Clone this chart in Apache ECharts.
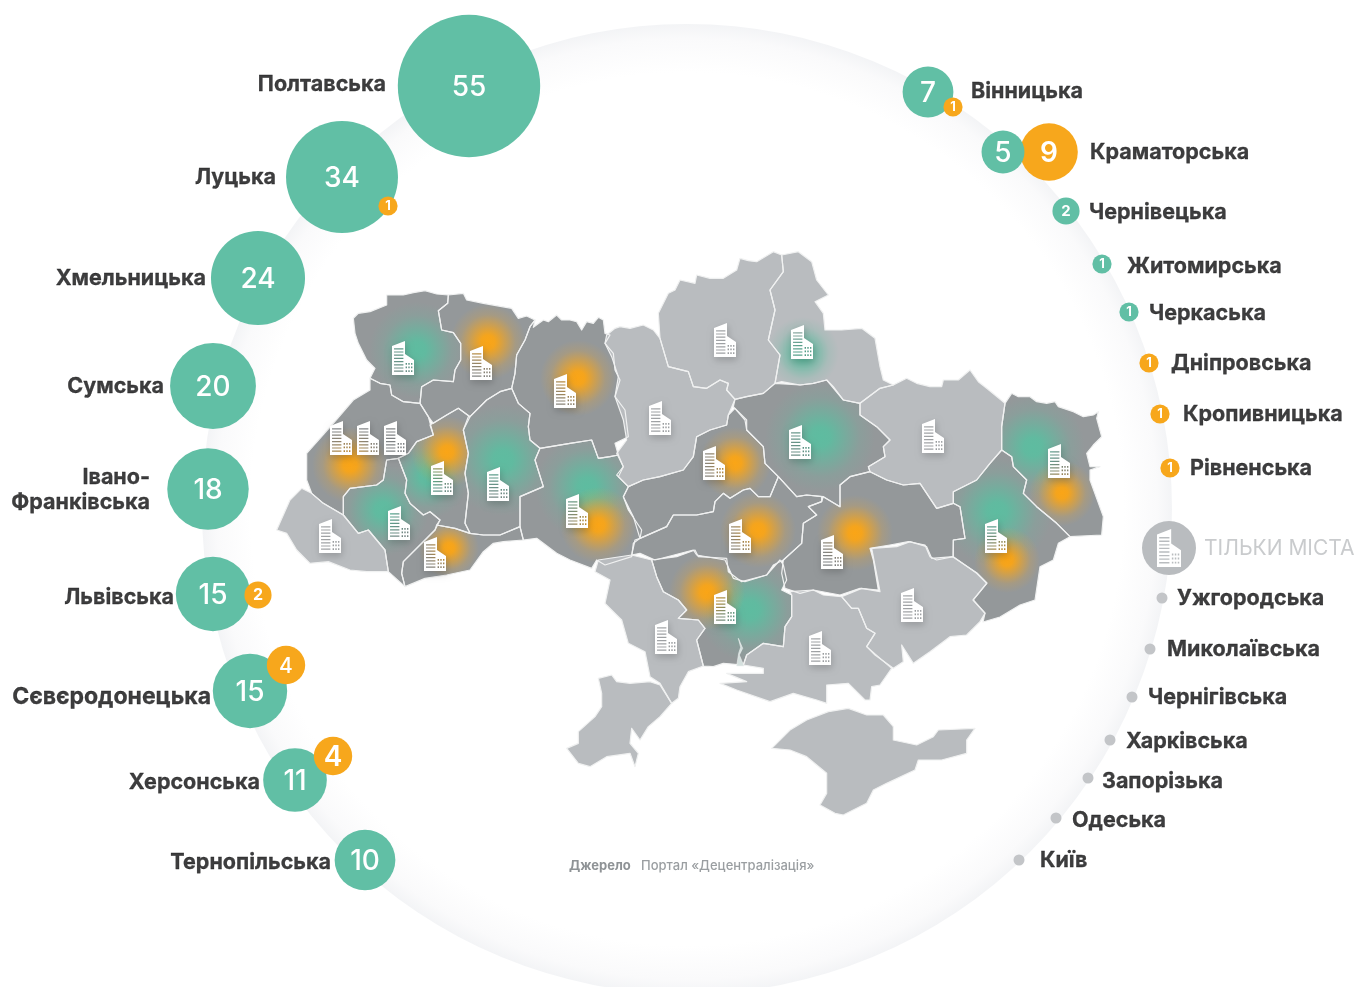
<!DOCTYPE html>
<html><head><meta charset="utf-8">
<style>html,body{margin:0;padding:0;background:#fff}#c{width:1354px;height:987px}</style>
<script src="https://cdn.jsdelivr.net/npm/echarts@6/dist/echarts.min.js"></script>
</head><body><div id="c"></div>
<script>
// ---------- data ----------
const greenCities = ['Полтавська','Луцька','Хмельницька','Сумська','Івано-\nФранківська','Львівська','Сєвєродонецька','Херсонська','Тернопільська','Вінницька','Краматорська','Чернівецька','Житомирська','Черкаська'];
const greenValues = [55,34,24,20,18,15,15,11,10,7,5,2,1,1];
const orangeCities = ['Краматорська','Луцька','Львівська','Сєвєродонецька','Херсонська','Вінницька','Дніпровська','Кропивницька','Рівненська'];
const orangeValues = [9,1,2,4,4,1,1,1,1];
const onlyCities = ['Ужгородська','Миколаївська','Чернігівська','Харківська','Запорізька','Одеська','Київ'];
const legendTitle = 'ТІЛЬКИ МІСТА';
const sourceLabel = 'Джерело';
const sourceName = 'Портал «Децентралізація»';

// ---------- layout, in page pixels on hidden 0..1354 / 0..987 axes ----------
const greenXY = [[469,86],[342,177],[258,278],[213,386],[208,489],[213,594],[250,691],[295,780],[365,860],[928,92],[1003,152],[1066,211],[1102,264],[1129,312]];
const orangeXY = [[1049,152],[388,206],[258,595],[286,665],[333,756],[953,107],[1149,363],[1160,414],[1170,468]];
const onlyDotXY = [[1162,598],[1150,649],[1132,697],[1110,740],[1088,778],[1056,818],[1019,860]];
const nameAnchors = {
 'Полтавська':[386,85,'l'],'Луцька':[276,178,'l'],'Хмельницька':[206,279,'l'],'Сумська':[164,387,'l'],'Івано-\nФранківська':[150,490,'l'],
 'Львівська':[174,598,'l'],'Сєвєродонецька':[211,697,'l',23],'Херсонська':[260,783,'l'],'Тернопільська':[331,863,'l'],
 'Вінницька':[971,92,'r'],'Краматорська':[1090,153,'r'],'Чернівецька':[1089,213,'r'],'Житомирська':[1127,267,'r'],'Черкаська':[1149,314,'r'],
 'Дніпровська':[1171,364,'r'],'Кропивницька':[1183,415,'r'],'Рівненська':[1190,469,'r'],
 'Ужгородська':[1177,599,'r'],'Миколаївська':[1167,650,'r'],'Чернігівська':[1148,698,'r'],'Харківська':[1126,742,'r'],'Запорізька':[1102,782,'r'],'Одеська':[1072,821,'r'],'Київ':[1040,861,'r']
};
const buildingXY = [[403,358],[481,363],[565,391],[341,438],[368,438],[395,438],[442,478],[498,484],[577,511],[330,536],[399,523],[435,554],[725,340],[802,342],[660,418],[714,463],[800,442],[933,436],[1059,461],[996,536],[740,536],[832,552],[666,637],[725,607],[820,648],[912,605]];
const legendBadgeXY = [1169,548];

// ---------- map outlines ----------
const at=(ox,oy,a)=>{const o=[];for(let i=0;i<a.length;i+=2)o.push([ox+a[i]/3,oy+a[i+1]/3]);return o;};
const z1=a=>at(270,240,a), z2=a=>at(600,240,a), z3=a=>at(550,540,a), px=a=>at(0,0,a.map(v=>v*3));
const regions = [
 {d:1,p:z1([250,235,265,220,300,215,350,195,350,165,400,165,430,158,465,152,500,162,535,165,533,190,505,212,515,270,550,278,572,310,572,360,555,390,550,425,490,420,455,440,450,490,400,485,365,465,360,435,330,430,300,415,315,385,290,360,265,310,255,280]),
  g:[[417,350,48,'g']]},
 {d:1,p:z1([535,165,580,160,590,180,640,190,725,205,745,235,770,228,795,240,780,260,765,300,740,345,735,400,725,445,690,455,650,480,600,530,565,505,530,525,490,550,475,530,450,490,455,440,490,420,550,425,555,390,572,360,572,310,550,278,515,270,505,212,533,190]),
  g:[[488,342,38,'o']]},
 {d:1,p:z1([795,240,790,262,820,240,835,245,860,225,875,240,900,240,920,245,935,270,950,245,970,250,985,232,1000,240,1005,280,1020,285,1005,310,1030,340,1035,390,1050,420,1035,470,1065,510,1075,590,1035,610,1045,645,1020,650,985,655,965,600,900,610,810,625,780,600,775,560,780,520,745,490,725,445,735,400,740,345,765,300,780,260]),
  g:[[578,378,38,'o']]},
 {d:0,p:z2([20,285,45,265,60,260,90,265,130,255,160,270,180,295,205,380,265,395,280,440,320,445,360,420,385,430,380,450,405,478,385,525,380,555,330,570,290,590,280,650,250,690,180,710,130,720,85,740,50,705,70,680,50,640,80,600,70,540,45,470,55,410,35,350,15,310])},
 {d:0,p:z2([180,295,175,220,205,160,225,150,240,120,285,130,290,105,330,115,370,115,410,90,420,55,445,62,470,65,520,35,545,45,550,95,510,150,525,210,505,300,540,345,525,430,490,460,440,470,405,478,380,450,385,430,360,420,320,445,280,440,265,395,205,380])},
 {d:0,p:z2([545,45,595,35,635,65,650,120,685,165,645,185,670,220,675,270,725,270,785,265,825,295,840,380,850,420,880,435,840,445,780,490,730,480,700,440,680,420,640,430,600,435,545,425,525,430,540,345,505,300,525,210,510,150,550,95]),
  g:[[803,353,36,'g']]},
 {d:1,p:z2([405,478,440,470,490,460,525,430,600,435,640,430,680,420,730,480,780,490,780,525,830,560,870,600,850,620,855,650,805,680,810,695,750,710,720,735,720,800,670,770,620,765,590,770,535,710,495,670,490,620,440,570,435,540,400,500]),
  g:[[820,437,55,'g']]},
 {d:0,p:z2([880,435,920,415,950,430,990,440,1025,440,1030,420,1075,420,1110,390,1135,425,1160,445,1215,490,1205,560,1205,630,1170,670,1130,720,1060,755,1060,790,1010,805,960,730,910,735,860,720,810,695,805,680,855,650,850,620,870,600,830,560,780,525,780,490,840,445])},
 {d:1,p:z2([1215,490,1235,460,1255,470,1290,470,1310,485,1340,490,1365,485,1375,500,1420,515,1450,530,1480,525,1495,515,1490,535,1505,590,1480,615,1460,640,1470,680,1500,680,1470,690,1470,720,1510,830,1505,885,1410,890,1370,850,1310,800,1270,760,1280,720,1240,680,1235,650,1205,630,1205,560]),
  g:[[1033,447,52,'g'],[1062,493,33,'o']]},
 {d:1,p:[...z2([1205,630,1235,650,1240,680,1280,720,1270,760,1310,800,1370,850,1410,890,1375,910,1360,960,1320,980,1305,1080]),...px([1020,605,1000,617,983,622,985,613,973,600,987,583,977,573,953,557]),...z2([1060,900,1095,895,1080,800,1060,790,1060,755,1130,720,1170,670])],
  g:[[997,512,55,'g'],[1007,560,33,'o']]},
 {d:1,p:z2([720,800,720,735,750,710,810,695,860,720,910,735,960,730,1010,805,1060,790,1080,800,1095,895,1060,900,1060,950,1010,960,990,950,975,915,925,905,870,915,810,925,820,960,835,1050,780,1045,720,1065,640,1050,600,1060,555,1045,545,1000,550,960,605,910,610,850,650,825,625,800,665,785,670,770]),
  g:[[855,533,38,'o']]},
 {d:1,p:z2([120,895,200,860,220,825,290,825,340,815,345,785,370,760,390,775,430,750,450,745,475,770,510,770,535,710,590,770,620,765,665,770,665,785,625,800,650,825,610,850,605,910,550,960,520,975,500,1005,435,1025,400,1015,375,960,290,945,280,930,165,960,120,940,95,945,105,900]),
  g:[[758,530,38,'o']]},
 {d:1,p:z2([85,740,130,720,180,710,250,690,280,650,290,590,330,570,380,555,385,525,405,505,440,540,440,570,490,620,495,670,535,710,510,770,475,770,450,745,430,750,390,775,370,760,345,785,340,815,290,825,220,825,200,860,120,895,100,830,70,770]),
  g:[[735,463,36,'o']]},
 {d:1,p:z1([810,625,900,610,965,600,985,655,1020,650,1045,645,1060,680,1045,710,1075,740,1060,770,1075,810,1115,870,1110,895,1090,910,1085,950,1005,975,980,960,965,985,900,960,860,940,800,895,760,900,750,860,750,770,820,740,795,660]),
  g:[[587,487,52,'g'],[598,525,38,'o']]},
 {d:1,p:z1([600,530,650,480,690,455,725,445,745,490,780,520,775,560,780,600,810,625,795,660,820,740,750,770,750,860,690,885,640,885,600,880,585,850,595,760,585,700,595,640,580,570,595,530]),
  g:[[503,460,56,'g']]},
 {d:1,p:z1([480,555,530,525,565,505,600,530,580,570,595,640,585,700,595,760,585,850,600,880,555,865,500,855,510,840,480,815,460,825,420,790,405,760,410,720,385,655,415,640,440,605,490,585]),
  g:[[427,477,42,'g'],[447,452,36,'o']]},
 {d:1,p:z1([300,415,330,430,360,435,365,465,400,485,450,490,475,530,490,585,440,605,415,640,385,655,350,660,340,720,320,735,240,745,220,770,220,825,160,790,125,760,110,720,110,640,190,550,250,480,300,450]),
  g:[[350,465,38,'o']]},
 {d:0,p:z1([125,760,160,790,220,825,265,880,295,870,345,930,355,995,290,995,240,990,175,965,120,970,80,930,50,880,20,870,60,780,95,745])},
 {d:1,p:z1([220,825,220,770,240,745,320,735,340,720,350,660,385,655,410,720,405,760,420,790,460,825,480,815,510,840,495,870,400,965,395,1000,405,1040,355,995,345,930,295,870,265,880]),
  g:[[383,510,46,'g']]},
 {d:1,p:z1([495,870,500,855,555,865,600,880,640,885,690,885,750,860,760,900,700,905,670,910,640,935,600,990,530,1005,465,1015,405,1040,395,1000,400,965]),
  g:[[449,548,30,'o']]},
 {d:0,p:z3([135,95,145,60,245,45,305,60,320,110,340,155,385,180,410,210,385,235,445,240,465,265,440,300,460,378,415,395,390,440,385,475,365,490,330,430,300,410,285,335,235,310,215,240,165,190,180,120])},
 {d:0,p:z3([145,415,185,405,200,425,240,430,300,425,330,435,365,490,330,530,295,560,270,600,245,565,240,610,265,640,255,680,240,640,170,650,120,680,85,670,50,625,85,610,85,575,135,530,155,500,155,460])},
 {d:1,p:z3([305,60,380,50,435,30,445,50,530,55,535,95,575,125,650,105,690,60,700,75,710,120,695,150,725,165,725,230,705,260,700,320,640,310,590,345,580,375,520,370,490,380,460,378,440,300,465,265,445,240,385,235,410,210,385,180,340,155,320,110]),
  g:[[750,610,52,'g'],[707,592,38,'o']]},
 {d:0,p:z3([720,155,790,150,820,165,875,170,905,205,925,205,950,265,975,280,950,320,1025,385,990,435,965,440,960,480,945,480,895,430,830,435,830,490,800,480,730,460,660,485,560,450,510,430,590,425,530,400,640,400,640,385,580,375,590,345,640,310,700,320,705,260,725,230,725,165])},
 {d:0,p:z3([875,170,935,145,990,155,965,25,1040,20,1080,5,1130,20,1145,55,1210,50,1280,100,1310,130,1270,180,1305,220,1290,245,1250,285,1200,290,1140,335,1090,370,1055,315,1060,365,1030,385,975,345,950,320,975,280,950,265,925,205,905,205])},
 {d:0,p:z3([665,625,720,570,770,540,835,515,895,505,950,525,1000,525,1030,560,1030,600,1100,615,1150,590,1165,570,1275,565,1250,600,1250,640,1175,660,1105,660,1095,690,1010,730,970,750,950,790,880,825,855,820,810,795,830,760,830,700,770,650,720,630])}
];
const estuary = z3([565,295,578,325,568,345,582,378,560,378,566,340,572,322]);

// ---------- styles ----------
const GREEN='#61bfa5', ORANGE='#f7a71c', DARK='#94989a', LIGHT='#b9bcbf', DOT='#c3c5c8', INK='#0c0d0e';
const glow={g:[94,188,160],o:[250,165,22]};
const FONT='Inter';
const rgba=(c,a)=>`rgba(${c[0]},${c[1]},${c[2]},${a})`;
const radius=v=>9.6*Math.sqrt(v);

// building pictogram with real window holes (outer clockwise, holes counter-clockwise)
function buildingPath(){
  let s='M0 5L13 0L13 13L22 19L22 34L0 34Z';
  const hole=(x,y,w,h)=>`M${x} ${y}L${x} ${y+h}L${x+w} ${y+h}L${x+w} ${y}Z`;
  for(let i=0;i<8;i++) s+=hole(2,7.2+i*3.2,9.4,1.2);
  for(let r=0;r<3;r++) for(let c=0;c<3;c++) s+=hole(13.6+c*2.7,22+r*3.6,1.4,1.7);
  return 'path://'+s;
}
const BUILDING=buildingPath();

const polySeries=(name,z,render)=>({type:'custom',name,coordinateSystem:'cartesian2d',z,silent:true,clip:false,
  data:regions.map((r,i)=>[i]),encode:{x:0,y:0},renderItem:render});
const coordPts=(api,pts)=>pts.map(p=>api.coord(p));

const nameSeries=(side)=>({type:'scatter',name:'names-'+side,symbolSize:0,z:8,silent:true,clip:false,
  data:Object.keys(nameAnchors).filter(k=>nameAnchors[k][2]===side).map(k=>({value:nameAnchors[k].slice(0,2),name:k,label:nameAnchors[k][3]?{fontSize:nameAnchors[k][3]}:{}})),
  label:{show:true,position:side==='l'?'left':'right',distance:0,formatter:p=>p.name,color:INK,fontFamily:FONT,fontWeight:700,fontSize:21.5,lineHeight:25,textBorderColor:INK,textBorderWidth:0.3}});

const bubbleItem=(xy,v,fs,fw)=>({value:[xy[0],xy[1],v],symbolSize:2*radius(v),label:{fontSize:fs,fontWeight:fw,offset:[0,fs>20?2:0]}});
const bubbleSeries=(name,color,items,z)=>({type:'scatter',name,z,silent:true,clip:false,data:items,
  itemStyle:{color,opacity:1},
  label:{show:true,position:'inside',color:'#fff',fontFamily:FONT,formatter:p=>p.value[2]}});

const greenItems=greenValues.map((v,i)=>bubbleItem(greenXY[i],v,v>=5?28:(v===2?15:13),v>=5?500:700));
const orangeItems=orangeValues.map((v,i)=>bubbleItem(orangeXY[i],v,v>=5?28:(v===4?(orangeCities[i]==='Херсонська'?28:21):(v===2?16:13)),v===4&&orangeCities[i]!=='Херсонська'?500:(v>=4?600:700)));

const option={
  animation:false,backgroundColor:'#fff',
  grid:{left:0,right:0,top:0,bottom:0},
  xAxis:{type:'value',min:0,max:1354,show:false},
  yAxis:{type:'value',min:0,max:987,inverse:true,show:false},
  tooltip:{show:false},
  graphic:[
    {type:'text',left:569,top:860,z:10,style:{text:sourceLabel,fill:'#8f9396',font:'700 13px '+FONT}},
    {type:'text',left:641,top:860,z:10,style:{text:sourceName,fill:'#9a9ea1',font:'500 13px '+FONT}},
    {type:'text',left:1204,top:538,z:10,style:{text:legendTitle,fill:'#c9cbcd',font:'400 21px '+FONT}}
  ],
  series:[
    {type:'custom',name:'disc',coordinateSystem:'cartesian2d',z:0,silent:true,clip:false,data:[[687,509,485]],encode:{x:0,y:1},
     renderItem:(p,api)=>{const c=api.coord([api.value(0),api.value(1)]);const r=api.value(2);
       return {type:'circle',shape:{cx:c[0],cy:c[1],r},style:{fill:new echarts.graphic.RadialGradient(.5,.5,.5,[{offset:0,color:'#fff'},{offset:.9,color:'#fff'},{offset:.97,color:'#fafafb'},{offset:1,color:'#f3f4f6'}])}};}},
    polySeries('regions',1,(p,api)=>{
      const r=regions[api.value(0)], pts=coordPts(api,r.p);
      const kids=[{type:'polygon',shape:{points:pts},style:{fill:r.d?DARK:LIGHT}}];
      (r.g||[]).forEach(g=>{const c=api.coord([g[0],g[1]]),col=glow[g[3]];
        kids.push({type:'polygon',shape:{points:pts},style:{fill:new echarts.graphic.RadialGradient(c[0],c[1],g[2],[
          {offset:0,color:rgba(col,1)},{offset:.18,color:rgba(col,.95)},{offset:.45,color:rgba(col,.55)},{offset:.72,color:rgba(col,.17)},{offset:1,color:rgba(col,0)}],true)}});});
      return {type:'group',children:kids};
    }),
    polySeries('borders',2,(p,api)=>({type:'polygon',shape:{points:coordPts(api,regions[api.value(0)].p)},style:{fill:'none',stroke:'#f0f1f1',lineWidth:1.2,lineJoin:'round'}})),
    {type:'custom',name:'estuary',coordinateSystem:'cartesian2d',z:3,silent:true,clip:false,data:[[0]],encode:{x:0,y:0},
     renderItem:(p,api)=>({type:'polygon',shape:{points:coordPts(api,estuary)},style:{fill:'#d4e0de',stroke:'#eef0f0',lineWidth:.6}})},
    {type:'scatter',name:'buildings',z:4,silent:true,clip:false,symbol:BUILDING,symbolSize:[22,34],data:buildingXY,
     itemStyle:{color:'#fff',opacity:1,shadowBlur:7,shadowColor:'rgba(0,0,0,.22)',shadowOffsetX:1,shadowOffsetY:3}},
    {type:'scatter',name:'legend-disc',z:4,silent:true,clip:false,symbolSize:54,data:[legendBadgeXY],itemStyle:{color:LIGHT,opacity:1}},
    {type:'scatter',name:'legend-building',z:5,silent:true,clip:false,symbol:BUILDING,symbolSize:[24,38],data:[legendBadgeXY],itemStyle:{color:'#fff',opacity:1}},
    bubbleSeries('orange-under',ORANGE,orangeItems.slice(0,1),5),
    bubbleSeries('green',GREEN,greenItems,6),
    bubbleSeries('orange',ORANGE,orangeItems.slice(1),7),
    {type:'scatter',name:'only-cities',z:6,silent:true,clip:false,symbolSize:11,data:onlyDotXY.map((xy,i)=>({value:xy,name:onlyCities[i]})),itemStyle:{color:DOT,opacity:1}},
    nameSeries('l'),nameSeries('r')
  ]
};
echarts.init(document.getElementById('c'),null,{renderer:'canvas'}).setOption(option);
</script></body></html>
